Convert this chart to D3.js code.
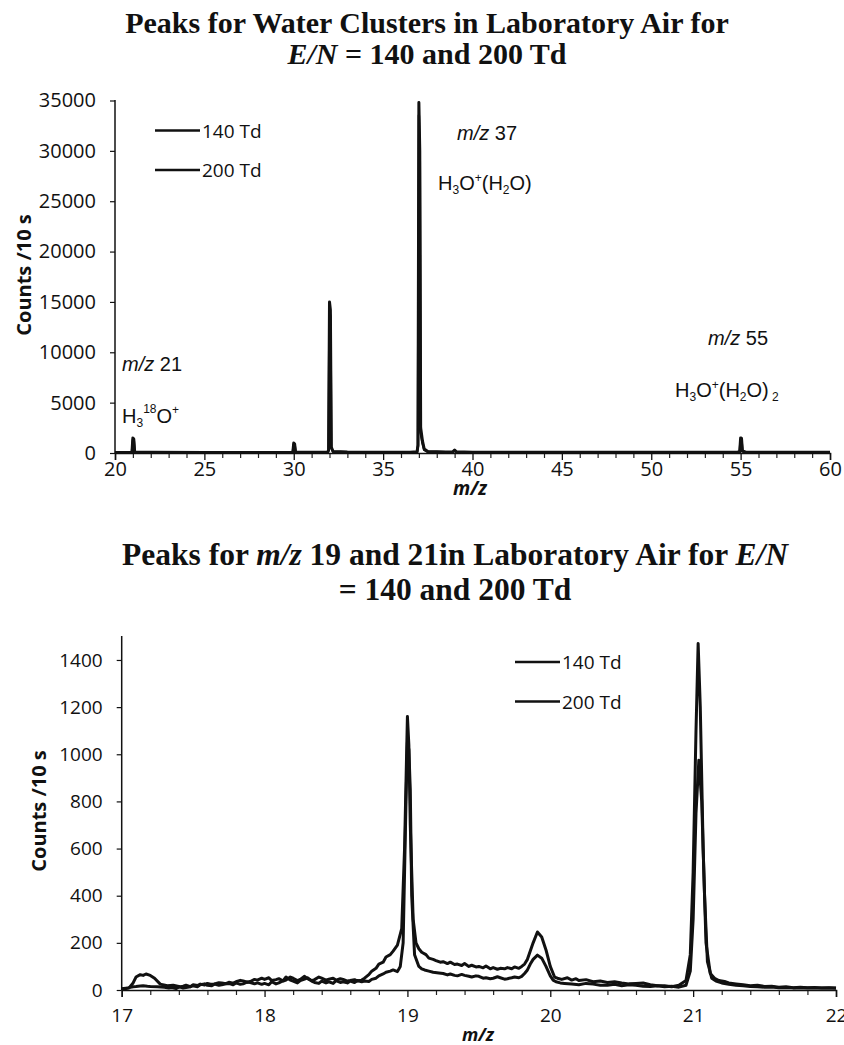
<!DOCTYPE html>
<html><head><meta charset="utf-8">
<script src="https://cdn.jsdelivr.net/npm/d3@7"></script>
<style>
body{margin:0;background:#fff;}
svg{display:block;}
.tick text{font-family:"Open Sans",sans-serif;fill:#111;}
</style></head>
<body>
<svg id="c" width="844" height="1045"></svg>
<script>
// ---------- DATA ----------
// Top chart: water-cluster spectrum, m/z 20-60
const topSeriesNames = ["140 Td", "200 Td"];
const top140 = [
 [20,60],[20.9,70],[20.95,80],[21.0,1500],[21.05,1400],[21.1,90],[22,70],[25,60],[28,60],[29.9,70],
 [29.95,80],[30.0,1000],[30.05,900],[30.1,80],[31,70],[31.9,90],[31.95,300],[32.0,15000],[32.05,14200],[32.1,600],
 [32.2,150],[33,90],[35,70],[36.5,80],[36.9,120],[36.95,800],[37.0,34800],[37.05,30000],[37.1,2500],[37.2,1200],
 [37.3,400],[37.5,150],[38.5,90],[38.9,120],[39.0,300],[39.1,120],[40,80],[45,70],[50,70],[54.8,80],
 [54.95,120],[55.0,1500],[55.05,1450],[55.1,200],[55.3,80],[58,70],[60,70]
];
const top200 = [
 [20,40],[20.9,50],[20.95,60],[21.0,1300],[21.05,1250],[21.1,70],[22,50],[25,40],[28,40],[29.9,50],
 [29.95,60],[30.0,850],[30.05,800],[30.1,60],[31,50],[31.9,70],[31.95,250],[32.0,14000],[32.05,13500],[32.1,500],
 [32.2,120],[33,70],[35,50],[36.5,60],[36.9,100],[36.95,700],[37.0,33500],[37.05,29000],[37.1,2000],[37.2,1000],
 [37.3,300],[37.5,120],[38.5,70],[38.9,90],[39.0,250],[39.1,90],[40,60],[45,50],[50,50],[54.8,60],
 [54.95,100],[55.0,1300],[55.05,1250],[55.1,160],[55.3,60],[58,50],[60,50]
];
const topXTicks = [20,25,30,35,40,45,50,55,60];
const topYTicks = [0,5000,10000,15000,20000,25000,30000,35000];

// Bottom chart: m/z 17-22
const bot200 = [
 [17.00,5],[17.03,8],[17.05,10],[17.08,14],[17.10,15],[17.13,17],[17.15,18],[17.18,16],[17.20,15],[17.25,14],[17.30,12],[17.33,8],[17.35,10],[17.38,6],[17.40,12],[17.43,16],[17.45,20],
 [17.48,14],[17.50,22],[17.53,19],[17.55,25],[17.58,21],[17.60,28],[17.63,24],[17.65,26],[17.68,31],[17.70,30],[17.73,27],[17.75,33],[17.78,29],[17.80,35],[17.83,41],[17.85,38],[17.88,33],[17.90,36],[17.93,45],[17.95,42],
 [17.98,50],[18.00,45],[18.03,52],[18.05,40],[18.08,44],[18.10,48],[18.13,38],[18.15,42],[18.18,55],[18.20,50],[18.23,40],[18.25,45],[18.28,58],[18.30,48],[18.33,40],[18.35,44],[18.38,55],[18.40,50],[18.43,42],[18.45,46],
 [18.48,50],[18.50,42],[18.53,48],[18.55,45],[18.58,38],[18.60,40],[18.63,44],[18.65,38],[18.68,42],[18.70,50],[18.73,65],[18.75,80],[18.78,92],[18.80,110],[18.83,118],[18.85,140],[18.88,150],[18.90,165],[18.93,190],
 [18.96,260],[18.98,600],[19.00,1160],[19.01,1040],[19.02,700],[19.04,300],[19.06,200],[19.08,175],[19.10,160],[19.13,150],[19.15,135],[19.18,130],[19.20,125],
 [19.23,118],[19.25,120],[19.28,112],[19.30,118],[19.33,108],[19.35,110],[19.38,104],[19.40,112],[19.43,100],[19.45,105],[19.48,98],[19.50,100],[19.53,94],[19.55,102],[19.58,90],[19.60,95],[19.63,88],[19.65,92],[19.68,90],[19.70,95],
 [19.73,90],[19.75,98],[19.78,92],[19.80,100],[19.82,110],[19.84,130],[19.86,165],[19.88,200],[19.91,246],[19.94,225],[19.97,170],[20.00,100],[20.03,55],[20.05,50],[20.08,45],
 [20.12,52],[20.15,42],[20.18,48],[20.20,40],[20.25,44],[20.30,35],[20.35,38],[20.40,32],[20.45,35],[20.50,30],[20.55,26],[20.60,28],[20.65,30],[20.70,22],[20.75,18],[20.80,18],[20.85,14],[20.90,20],[20.95,40],
 [20.98,150],[21.00,500],[21.02,1100],[21.035,1470],[21.05,1200],[21.07,600],[21.09,200],[21.12,70],[21.15,50],[21.18,40],[21.22,36],[21.25,30],[21.30,26],
 [21.35,22],[21.40,18],[21.45,20],[21.50,15],[21.55,16],[21.60,12],[21.65,14],[21.70,10],[21.75,12],[21.80,10],[21.85,11],[21.90,8],[21.95,10],[22.00,8]
];
const bot140 = [
 [17.00,3],[17.05,8],[17.08,30],[17.10,55],[17.13,65],[17.15,62],[17.17,68],[17.20,62],[17.23,50],[17.27,25],[17.32,18],
 [17.36,20],[17.40,15],[17.43,8],[17.45,10],[17.48,14],[17.50,18],[17.53,14],[17.55,22],[17.58,26],[17.60,20],[17.63,18],[17.65,25],[17.68,20],[17.70,22],[17.73,26],[17.75,28],[17.78,22],[17.80,30],[17.83,24],[17.85,26],
 [17.88,34],[17.90,32],[17.93,26],[17.95,30],[17.98,24],[18.00,28],[18.03,22],[18.05,35],[18.08,26],[18.10,30],[18.13,40],[18.15,55],[18.18,42],[18.20,38],[18.23,30],[18.25,40],[18.28,46],[18.30,52],[18.33,38],[18.35,32],
 [18.38,28],[18.40,38],[18.43,30],[18.45,35],[18.48,28],[18.50,40],[18.53,32],[18.55,35],[18.58,30],[18.60,38],[18.63,32],[18.65,40],[18.68,35],[18.70,38],[18.73,36],[18.75,45],[18.78,50],[18.80,60],[18.83,68],[18.85,75],
 [18.88,80],[18.90,85],[18.93,78],[18.95,100],[18.97,200],[18.99,800],[19.00,1050],[19.01,1020],[19.02,850],[19.03,400],[19.05,150],[19.08,100],
 [19.10,90],[19.12,85],[19.15,80],[19.18,75],[19.22,72],[19.25,70],[19.28,64],[19.30,68],[19.33,62],[19.35,60],[19.38,66],[19.40,62],[19.43,58],[19.45,55],[19.48,60],[19.50,58],[19.53,50],[19.55,52],[19.58,48],[19.60,50],
 [19.63,56],[19.65,52],[19.68,46],[19.70,48],[19.73,52],[19.75,55],[19.78,52],[19.80,58],[19.82,70],[19.84,85],[19.86,110],[19.88,130],[19.91,148],[19.94,135],[19.97,100],[20.00,60],
 [20.02,42],[20.04,35],[20.07,30],[20.10,28],[20.15,25],[20.20,22],[20.25,28],[20.30,25],[20.35,20],[20.40,20],[20.45,24],[20.50,18],[20.55,22],[20.60,20],[20.65,16],[20.70,15],[20.75,18],[20.80,14],[20.85,16],[20.90,12],
 [20.95,20],[20.98,80],[21.00,300],[21.02,750],[21.04,975],[21.06,800],[21.08,400],[21.10,120],[21.13,50],[21.16,38],[21.20,30],
 [21.25,24],[21.30,20],[21.35,18],[21.40,15],[21.45,14],[21.50,12],[21.55,13],[21.60,10],[21.65,11],[21.70,9],[21.75,10],[21.80,8],[21.85,9],[21.90,8],[21.95,9],[22.00,7]
];
const botXTicks = [17,18,19,20,21,22];
const botYTicks = [0,200,400,600,800,1000,1200,1400];

// ---------- DRAW ----------
const svg = d3.select("#c");
const serif = '"Liberation Serif","Times New Roman",serif';
const sans = '"Liberation Sans",Arial,sans-serif';
const cal = '"Open Sans",sans-serif';

function title(lines, cx, size){
  lines.forEach(l=>{
    const t = svg.append("text").attr("x",cx).attr("y",l.y).attr("text-anchor","middle")
      .attr("font-family",serif).attr("font-weight","bold").attr("font-size",size).attr("fill","#111");
    l.parts.forEach(p=>{ t.append("tspan").attr("font-style",p[1]?"italic":null).text(p[0]); });
  });
}

title([
 {y:33, parts:[["Peaks for Water Clusters in Laboratory Air for",false]]},
 {y:64, parts:[["E/N",true],[" = 140 and 200 Td",false]]}
], 427, 30);

title([
 {y:565, parts:[["Peaks for ",false],["m/z",true],[" 19 and 21in Laboratory Air for ",false],["E/N",true]]},
 {y:600, parts:[["= 140 and 200 Td",false]]}
], 455, 31.5);

function chart(o){
  const x = d3.scaleLinear().domain(o.xd).range([o.x0,o.x1]);
  const y = d3.scaleLinear().domain(o.yd).range([o.y0,o.y1]);
  const g = svg.append("g");
  // minor x ticks
  g.append("g").attr("transform",`translate(0,${o.y0})`)
    .call(d3.axisBottom(x).tickValues(o.minor).tickSize(5).tickFormat(""))
    .call(a=>a.select(".domain").remove())
    .call(a=>a.selectAll("line").attr("stroke","#222").attr("stroke-width",1.2));
  const xa = g.append("g").attr("transform",`translate(0,${o.y0})`)
    .call(d3.axisBottom(x).tickValues(o.xt).tickSize(7).tickPadding(o.xpad).tickFormat(d3.format("d")));
  xa.select(".domain").attr("stroke","#111").attr("stroke-width",1.5);
  xa.selectAll("line").attr("stroke","#111").attr("stroke-width",1.3);
  xa.selectAll("text").attr("font-size",o.fs).attr("font-family",cal);
  const ya = g.append("g").attr("transform",`translate(${o.x0},0)`)
    .call(d3.axisLeft(y).tickValues(o.yt).tickSize(5).tickPadding(o.ypad).tickFormat(d3.format("d")));
  ya.select(".domain").attr("d",`M-0,${o.y0}V${o.ytop}`).attr("stroke","#111").attr("stroke-width",1.5);
  ya.selectAll("line").attr("stroke","#111").attr("stroke-width",1.2);
  ya.selectAll("text").attr("font-size",o.fs).attr("font-family",cal);
  // axis titles
  g.append("text").attr("transform",`translate(${o.ylx},${o.yly}) rotate(-90)`).attr("text-anchor","middle")
    .attr("font-family",cal).attr("font-weight","bold").attr("font-size",o.yfs).attr("fill","#111").text("Counts /10 s");
  g.append("text").attr("x",o.xlx).attr("y",o.xly).attr("text-anchor","middle")
    .attr("font-family",cal).attr("font-weight","bold").attr("font-style","italic").attr("font-size",o.fs-1).attr("fill","#111").text("m/z");
  const line = d3.line().x(d=>x(d[0])).y(d=>y(d[1]));
  o.series.forEach((s,i)=>{
    g.append("path").datum(s).attr("d",line).attr("fill","none").attr("stroke","#111")
      .attr("stroke-width",o.sw[i]).attr("stroke-linejoin","round");
  });
  // legend
  o.names.forEach((n,i)=>{
    const ly = o.ly + i*o.lgap;
    g.append("line").attr("x1",o.lx).attr("x2",o.lx+45).attr("y1",ly).attr("y2",ly).attr("stroke","#111").attr("stroke-width",2.5);
    g.append("text").attr("x",o.lx+47).attr("y",ly+7).attr("font-family",cal).attr("font-size",o.lfs).attr("fill","#111").text(n);
  });
  return {x,y,g};
}

const minorTop = d3.range(20,61,1).filter(v=>v%5!==0);
chart({xd:[20,60], yd:[0,35000], x0:115, x1:830, y0:453, y1:100.5, ytop:100,
  xt:topXTicks, yt:topYTicks, minor:minorTop, fs:20, xpad:2, ypad:14, yfs:20, lfs:19,
  ylx:31, yly:275, xlx:470, xly:495,
  series:[top140, top200], sw:[3,2.5], names:topSeriesNames, lx:155, ly:130.5, lgap:39.5});

const minorBot = d3.range(17,22.001,0.2).map(v=>+v.toFixed(1)).filter(v=>Math.abs(v-Math.round(v))>0.01);
chart({xd:[17,22], yd:[0,1500], x0:121.7, x1:836, y0:990, y1:636.4, ytop:636,
  xt:botXTicks, yt:botYTicks, minor:minorBot, fs:19, xpad:12, ypad:14, yfs:20, lfs:19,
  ylx:46, yly:811, xlx:478, xly:1041,
  series:[bot200, bot140], sw:[3,3], names:["140 Td","200 Td"], lx:515, ly:662, lgap:39.5});

// annotations (top chart)
function ann(x,y,parts,size){
  const t = svg.append("text").attr("x",x).attr("y",y).attr("font-family",sans).attr("font-size",size).attr("fill","#111");
  parts.forEach(p=>{
    const ts = t.append("tspan").text(p.t);
    if(p.i) ts.attr("font-style","italic");
    if(p.sub) ts.attr("font-size",size*0.6);
    if(p.dy!==undefined) ts.attr("dy",p.dy);
  });
}
ann(122,371,[{t:"m/z",i:true},{t:" 21"}],20);
ann(122,423,[{t:"H"},{t:"3",sub:true,dy:4},{t:"18",sub:true,dy:-14},{t:"O",dy:10},{t:"+",sub:true,dy:-9},{t:"",dy:9}],20);
ann(457,140,[{t:"m/z",i:true},{t:" 37"}],20);
ann(438,190,[{t:"H"},{t:"3",sub:true,dy:4},{t:"O",dy:-4},{t:"+",sub:true,dy:-8},{t:"(H",dy:8},{t:"2",sub:true,dy:4},{t:"O)",dy:-4}],20);
ann(708,345,[{t:"m/z",i:true},{t:" 55"}],20);
ann(675,397,[{t:"H"},{t:"3",sub:true,dy:4},{t:"O",dy:-4},{t:"+",sub:true,dy:-8},{t:"(H",dy:8},{t:"2",sub:true,dy:4},{t:"O)",dy:-4},{t:" 2",sub:true,dy:4}],20);
</script>
</body></html>
